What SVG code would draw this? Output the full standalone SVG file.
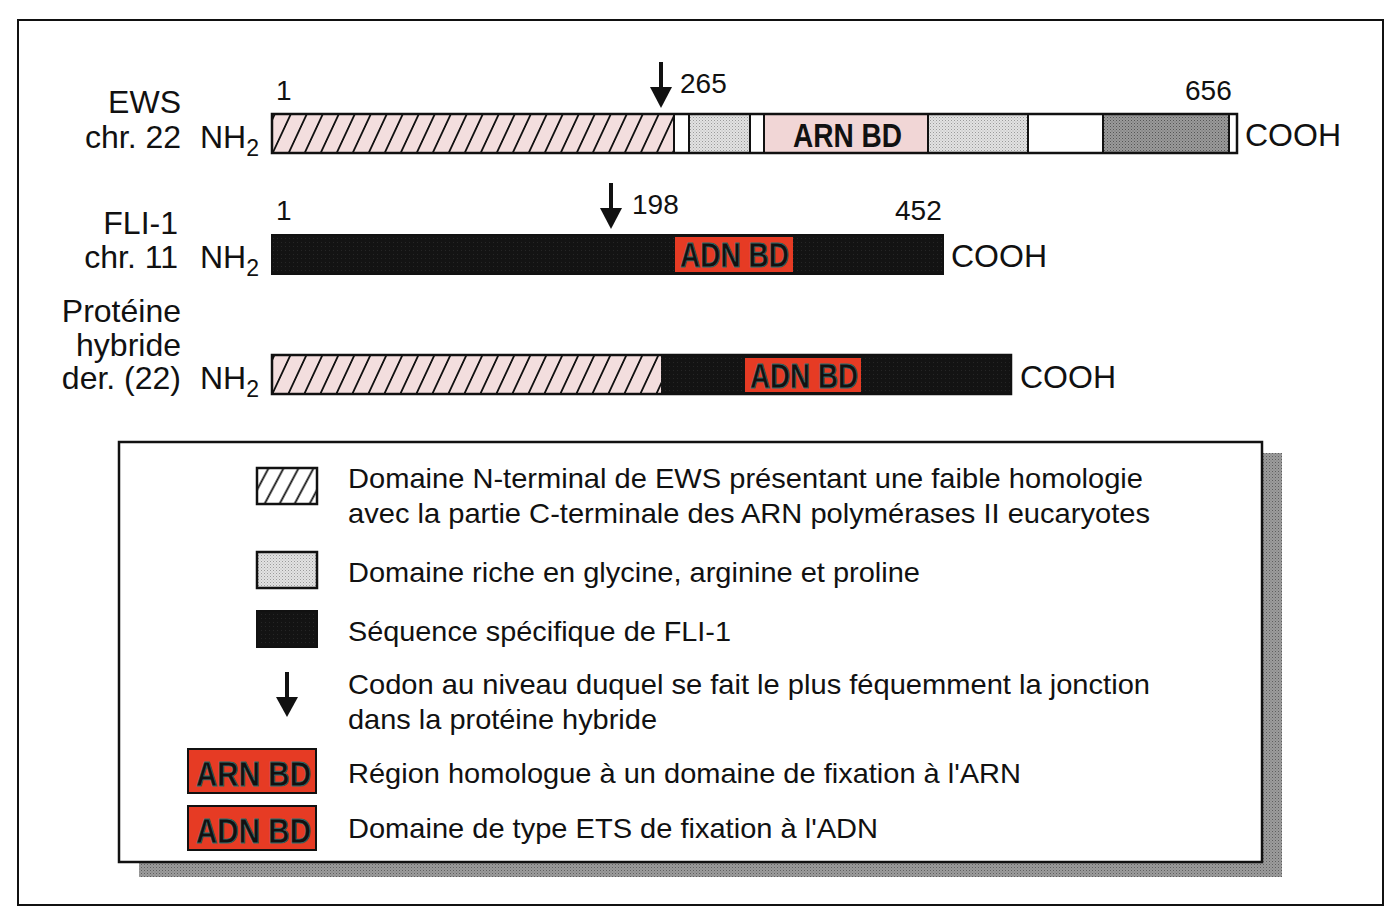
<svg xmlns="http://www.w3.org/2000/svg" width="1396" height="924" viewBox="0 0 1396 924">
<defs>
<pattern id="hatchPink" patternUnits="userSpaceOnUse" width="16" height="40" patternTransform="skewX(-25)">
<rect width="16" height="40" fill="#f3dede"/>
<line x1="8" y1="-2" x2="8" y2="42" stroke="#111" stroke-width="2"/>
</pattern>
<pattern id="hatchWhite" patternUnits="userSpaceOnUse" width="15" height="40" patternTransform="skewX(-28)">
<rect width="15" height="40" fill="#fff"/>
<line x1="7.5" y1="-2" x2="7.5" y2="42" stroke="#111" stroke-width="2"/>
</pattern>
<pattern id="stipLight" patternUnits="userSpaceOnUse" width="3" height="3">
<rect width="3" height="3" fill="#e2e2e2"/>
<rect width="1" height="1" fill="#9a9a9a"/>
<rect x="1.5" y="1.5" width="1" height="1" fill="#b5b5b5"/>
</pattern>
<pattern id="stipDark" patternUnits="userSpaceOnUse" width="3" height="3">
<rect width="3" height="3" fill="#9a9a9a"/>
<rect width="1" height="1" fill="#555"/>
<rect x="1.5" y="1.5" width="1" height="1" fill="#6a6a6a"/>
</pattern>
<pattern id="stipBlack" patternUnits="userSpaceOnUse" width="4" height="4">
<rect width="4" height="4" fill="#131313"/>
<rect x="1" y="2" width="1" height="1" fill="#262626"/>
</pattern>
<pattern id="stipShadow" patternUnits="userSpaceOnUse" width="3" height="3">
<rect width="3" height="3" fill="#9c9c9c"/>
<rect width="1" height="1" fill="#5e5e5e"/>
<rect x="1.5" y="1.5" width="1" height="1" fill="#777"/>
</pattern>
</defs>
<style>
text{font-family:"Liberation Sans",Arial,sans-serif;fill:#111}
.lab{font-size:32px}
.num{font-size:28px}
.leg{font-size:28px}
.bd{font-weight:bold;font-size:33px}
.bdr{font-weight:bold;font-size:35px;stroke:#2e6b6b;stroke-width:0.8}
.out{fill:none;stroke:#111;stroke-width:2.5}
.div{stroke:#111;stroke-width:2}
.red{fill:#e63b24}
</style>
<rect x="0" y="0" width="1396" height="924" fill="#fff"/>
<rect x="18" y="20" width="1365" height="885" fill="#fff" stroke="#111" stroke-width="2"/>

<g id="labels">
<text class="lab" x="181" y="113" text-anchor="end">EWS</text>
<text class="lab" x="181" y="148" text-anchor="end">chr. 22</text>
<text class="lab" x="200" y="148">NH<tspan font-size="23" dy="8">2</tspan></text>
<text class="lab" x="178" y="234" text-anchor="end">FLI-1</text>
<text class="lab" x="178" y="268" text-anchor="end">chr. 11</text>
<text class="lab" x="200" y="268">NH<tspan font-size="23" dy="8">2</tspan></text>
<text class="lab" x="181" y="322" text-anchor="end">Protéine</text>
<text class="lab" x="181" y="356" text-anchor="end">hybride</text>
<text class="lab" x="181" y="389" text-anchor="end">der. (22)</text>
<text class="lab" x="200" y="389">NH<tspan font-size="23" dy="8">2</tspan></text>
</g>

<g id="ews">
<rect x="272" y="114" width="402" height="39" fill="url(#hatchPink)"/>
<rect x="674" y="114" width="15" height="39" fill="#fff"/>
<rect x="689" y="114" width="61" height="39" fill="url(#stipLight)"/>
<rect x="750" y="114" width="14" height="39" fill="#fff"/>
<rect x="764" y="114" width="164" height="39" fill="#f1d6d6"/>
<rect x="928" y="114" width="100" height="39" fill="url(#stipLight)"/>
<rect x="1028" y="114" width="75" height="39" fill="#fff"/>
<rect x="1103" y="114" width="126" height="39" fill="url(#stipDark)"/>
<rect x="1229" y="114" width="8" height="39" fill="#fff"/>
<line class="div" x1="674" y1="114" x2="674" y2="153"/>
<line class="div" x1="689" y1="114" x2="689" y2="153"/>
<line class="div" x1="750" y1="114" x2="750" y2="153"/>
<line class="div" x1="764" y1="114" x2="764" y2="153"/>
<line class="div" x1="928" y1="114" x2="928" y2="153"/>
<line class="div" x1="1028" y1="114" x2="1028" y2="153"/>
<line class="div" x1="1103" y1="114" x2="1103" y2="153"/>
<line class="div" x1="1229" y1="114" x2="1229" y2="153"/>
<rect class="out" x="272" y="114" width="965" height="39"/>
<text class="bd" x="793" y="147" textLength="109" lengthAdjust="spacingAndGlyphs">ARN BD</text>
<text class="num" x="276" y="100">1</text>
<text class="num" x="680" y="93">265</text>
<text class="num" x="1185" y="100">656</text>
<text class="lab" x="1245" y="146">COOH</text>
</g>

<g id="fli1">
<rect x="272" y="235" width="671" height="39" fill="url(#stipBlack)" stroke="#111" stroke-width="2"/>
<rect class="red" x="675" y="237" width="118" height="35"/>
<text class="bdr" x="680" y="267" textLength="109" lengthAdjust="spacingAndGlyphs">ADN BD</text>
<text class="num" x="276" y="220">1</text>
<text class="num" x="632" y="214">198</text>
<text class="num" x="895" y="220">452</text>
<text class="lab" x="951" y="267">COOH</text>
</g>

<g id="hybrid">
<rect x="272" y="355" width="389" height="39" fill="url(#hatchPink)"/>
<rect x="661" y="355" width="350" height="39" fill="url(#stipBlack)"/>
<rect class="out" x="272" y="355" width="739" height="39"/>
<rect class="red" x="745" y="358" width="116" height="34"/>
<text class="bdr" x="750" y="388" textLength="108" lengthAdjust="spacingAndGlyphs">ADN BD</text>
<text class="lab" x="1020" y="388">COOH</text>
</g>

<g id="connectors">
<line x1="661" y1="62" x2="661" y2="90" stroke="#111" stroke-width="4"/>
<polygon points="650,87 672,87 661,108" fill="#111"/>
<line x1="611" y1="183" x2="611" y2="211" stroke="#111" stroke-width="4"/>
<polygon points="600,208 622,208 611,229" fill="#111"/>
</g>

<g id="legend">
<rect x="139" y="453" width="1143" height="424" fill="url(#stipShadow)"/>
<rect x="119" y="442" width="1143" height="420" fill="#fff" stroke="#111" stroke-width="2.5"/>
<rect x="257" y="468" width="60" height="36" fill="url(#hatchWhite)" stroke="#111" stroke-width="2.5"/>
<rect x="257" y="552" width="60" height="36" fill="url(#stipLight)" stroke="#111" stroke-width="2.5"/>
<rect x="257" y="611" width="60" height="36" fill="url(#stipBlack)" stroke="#111" stroke-width="2"/>
<line x1="287" y1="672" x2="287" y2="700" stroke="#111" stroke-width="4"/>
<polygon points="276,697 298,697 287,717" fill="#111"/>
<rect class="red" x="188" y="749" width="128" height="44" stroke="#111" stroke-width="2"/>
<text class="bdr" x="196" y="786" textLength="115" lengthAdjust="spacingAndGlyphs">ARN BD</text>
<rect class="red" x="188" y="806" width="128" height="44" stroke="#111" stroke-width="2"/>
<text class="bdr" x="196" y="843" textLength="115" lengthAdjust="spacingAndGlyphs">ADN BD</text>
<text class="leg" x="348" y="488" textLength="795" lengthAdjust="spacingAndGlyphs">Domaine N-terminal de EWS présentant une faible homologie</text>
<text class="leg" x="348" y="523" textLength="802" lengthAdjust="spacingAndGlyphs">avec la partie C-terminale des ARN polymérases II eucaryotes</text>
<text class="leg" x="348" y="582" textLength="572" lengthAdjust="spacingAndGlyphs">Domaine riche en glycine, arginine et proline</text>
<text class="leg" x="348" y="641" textLength="383" lengthAdjust="spacingAndGlyphs">Séquence spécifique de FLI-1</text>
<text class="leg" x="348" y="694" textLength="802" lengthAdjust="spacingAndGlyphs">Codon au niveau duquel se fait le plus féquemment la jonction</text>
<text class="leg" x="348" y="729" textLength="309" lengthAdjust="spacingAndGlyphs">dans la protéine hybride</text>
<text class="leg" x="348" y="783" textLength="673" lengthAdjust="spacingAndGlyphs">Région homologue à un domaine de fixation à l'ARN</text>
<text class="leg" x="348" y="838" textLength="530" lengthAdjust="spacingAndGlyphs">Domaine de type ETS de fixation à l'ADN</text>
</g>
</svg>
